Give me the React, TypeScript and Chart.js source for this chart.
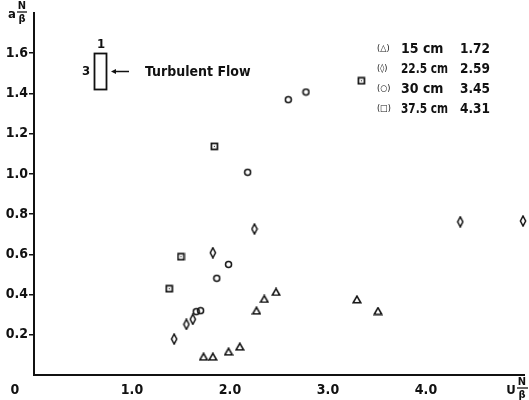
import React, { useEffect, useRef } from "react";
import { Chart, registerables } from "chart.js";

Chart.register(...registerables);

// ---- data ----
const xTickValues = [1, 2, 3, 4];
const yTickValues = [0.2, 0.4, 0.6, 0.8, 1.0, 1.2, 1.4, 1.6];

const seriesNames = ["15 cm", "22.5 cm", "30 cm", "37.5 cm"];
const seriesSymbols = ["(△)", "(◊)", "(○)", "(□)"];
const seriesRatios = ["1.72", "2.59", "3.45", "4.31"];

const x15 = [1.73, 1.825, 1.985, 2.1, 2.27, 2.35, 2.47, 3.295, 3.51];
const y15 = [0.091, 0.091, 0.116, 0.141, 0.32, 0.378, 0.413, 0.376, 0.318];

const x22 = [1.43, 1.555, 1.62, 1.825, 2.25, 4.35, 4.99];
const y22 = [0.179, 0.252, 0.277, 0.608, 0.726, 0.762, 0.766];

const x30 = [1.655, 1.7, 1.865, 1.985, 2.18, 2.595, 2.775];
const y30 = [0.315, 0.32, 0.481, 0.55, 1.008, 1.369, 1.407];

const x37 = [1.38, 1.5, 1.84, 3.34];
const y37 = [0.429, 0.588, 1.137, 1.463];

const annotationText = "Turbulent Flow";
const FONT = '"DejaVu Sans Condensed", "DejaVu Sans", sans-serif';

function makeMarker(kind: string): HTMLCanvasElement {
  const c = document.createElement("canvas");
  if (kind === "tri") {
    c.width = 10; c.height = 9;
  } else if (kind === "dia") {
    c.width = 8; c.height = 12;
  } else {
    c.width = 9; c.height = 9;
  }
  const ctx = c.getContext("2d")!;
  ctx.strokeStyle = "#111";
  ctx.fillStyle = "#111";
  if (kind === "tri") {
    ctx.lineWidth = 1.6;
    ctx.beginPath();
    ctx.moveTo(5, 1.2); ctx.lineTo(8.8, 7.8); ctx.lineTo(1.2, 7.8); ctx.closePath();
    ctx.stroke();
  } else if (kind === "dia") {
    ctx.lineWidth = 1.5;
    ctx.beginPath();
    ctx.moveTo(4, 1); ctx.lineTo(6.6, 6); ctx.lineTo(4, 11); ctx.lineTo(1.4, 6); ctx.closePath();
    ctx.stroke();
  } else if (kind === "circ") {
    ctx.lineWidth = 1.5;
    ctx.beginPath();
    ctx.arc(4.5, 4.5, 3, 0, Math.PI * 2);
    ctx.stroke();
  } else {
    ctx.lineWidth = 1.7;
    ctx.strokeRect(1.5, 1.5, 6, 6);
    ctx.fillRect(4, 4, 1, 1);
  }
  return c;
}

const toPoints = (xs: number[], ys: number[]) => xs.map((x, i) => ({ x, y: ys[i] }));

const decorPlugin = {
  id: "decor",
  afterDraw(chart: any) {
    const ctx: CanvasRenderingContext2D = chart.ctx;
    ctx.save();
    ctx.fillStyle = "#111";
    ctx.strokeStyle = "#111";
    ctx.textBaseline = "middle";

    // origin label
    ctx.font = `bold 14px ${FONT}`;
    ctx.textAlign = "center";
    ctx.fillText("0", 15, 390);

    // y-axis title a N/β
    ctx.font = `bold 13px ${FONT}`;
    ctx.fillText("a", 12, 15);
    ctx.font = `bold 11px ${FONT}`;
    ctx.fillText("N", 22, 6);
    ctx.fillText("β", 22, 19);
    ctx.lineWidth = 1.3;
    ctx.beginPath(); ctx.moveTo(17, 12); ctx.lineTo(27, 12); ctx.stroke();

    // x-axis title U N/β
    ctx.font = `bold 13px ${FONT}`;
    ctx.fillText("U", 511, 391);
    ctx.font = `bold 11px ${FONT}`;
    ctx.fillText("N", 522, 382);
    ctx.fillText("β", 522, 395);
    ctx.beginPath(); ctx.moveTo(517, 388); ctx.lineTo(528, 388); ctx.stroke();

    // annotation box
    ctx.lineWidth = 1.8;
    ctx.strokeRect(94.5, 53.5, 12, 36);
    ctx.font = `bold 13px ${FONT}`;
    ctx.fillText("1", 101, 45);
    ctx.fillText("3", 86, 72);
    // arrow
    ctx.lineWidth = 1.5;
    ctx.beginPath(); ctx.moveTo(129, 71.5); ctx.lineTo(115, 71.5); ctx.stroke();
    ctx.beginPath();
    ctx.moveTo(111, 71.5); ctx.lineTo(116, 69); ctx.lineTo(116, 74); ctx.closePath(); ctx.fill();
    ctx.textAlign = "left";
    ctx.font = `bold 14px ${FONT}`;
    ctx.fillText(annotationText, 145, 72);

    // legend
    for (let i = 0; i < seriesNames.length; i++) {
      const y = 49 + i * 20;
      ctx.textAlign = "left";
      ctx.font = `9px ${FONT}`;
      ctx.fillText(seriesSymbols[i], 377, y);
      ctx.font = `bold 14px ${FONT}`;
      ctx.fillText(seriesNames[i], 401, y, 47);
      ctx.fillText(seriesRatios[i], 460, y, 30);
    }
    ctx.restore();
  },
};

export default function App() {
  const ref = useRef<HTMLCanvasElement>(null);
  useEffect(() => {
    document.body.style.margin = "0";
    const markers = [makeMarker("tri"), makeMarker("dia"), makeMarker("circ"), makeMarker("sq")];
    const sets = [toPoints(x15, y15), toPoints(x22, y22), toPoints(x30, y30), toPoints(x37, y37)];
    const chart = new Chart(ref.current!, {
      type: "scatter",
      data: {
        datasets: sets.map((d, i) => ({
          label: seriesNames[i],
          data: d,
          pointStyle: markers[i] as any,
          pointRadius: 4,
          clip: false as any,
        })),
      },
      options: {
        animation: false,
        responsive: false,
        layout: { padding: { top: 13, right: 3, left: 0, bottom: 0 } },
        plugins: { legend: { display: false }, tooltip: { enabled: false } },
        scales: {
          x: {
            type: "linear",
            min: 0,
            max: 5,
            afterBuildTicks: (s: any) => { s.ticks = xTickValues.map((v) => ({ value: v })); },
            afterFit: (s: any) => { s.height = 25; },
            ticks: {
              color: "#111",
              font: { family: FONT, size: 14, weight: "bold" },
              padding: 7,
              maxRotation: 0,
              callback: (v: any) => Number(v).toFixed(1),
            },
            grid: { display: false, drawTicks: false },
            border: { display: true, color: "#111", width: 2 },
          },
          y: {
            type: "linear",
            min: 0,
            max: 1.8,
            afterBuildTicks: (s: any) => { s.ticks = yTickValues.map((v) => ({ value: v })); },
            afterFit: (s: any) => { s.width = 34; },
            ticks: {
              color: "#111",
              font: { family: FONT, size: 14, weight: "bold" },
              padding: 1,
              callback: (v: any) => Number(v).toFixed(1),
            },
            grid: { display: true, drawOnChartArea: false, drawTicks: true, tickLength: 5, color: "#111", lineWidth: 1.5 },
            border: { display: true, color: "#111", width: 2 },
          },
        },
      },
      plugins: [decorPlugin],
    });
    return () => chart.destroy();
  }, []);
  return (
    <div style={{ position: "absolute", left: 0, top: 0, width: 529, height: 400, background: "#fff" }}>
      <canvas ref={ref} width={529} height={400} />
    </div>
  );
}
